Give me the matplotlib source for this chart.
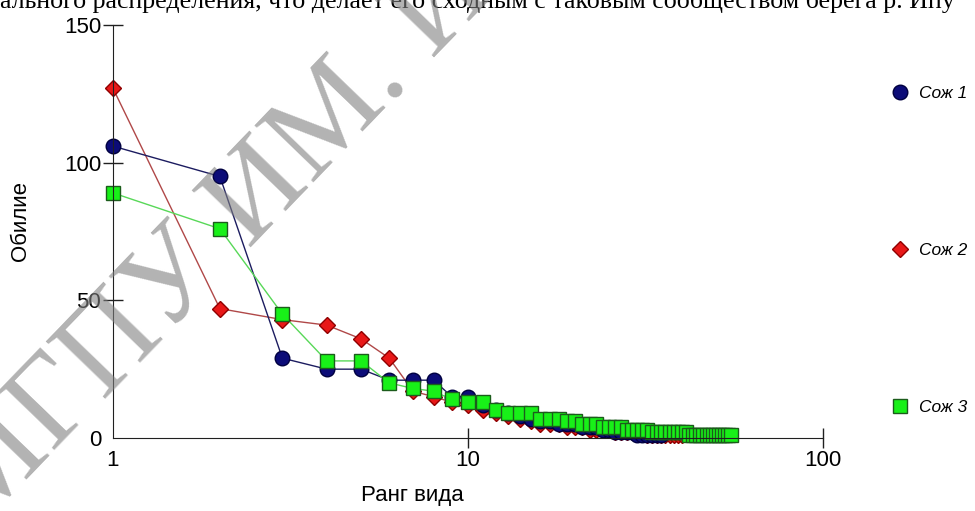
#!/usr/bin/env python3
'''Rank-abundance plot for three Sozh river samples'''
import matplotlib
matplotlib.use('Agg')
import matplotlib.pyplot as plt
from matplotlib.lines import Line2D

# abundance of each species, sorted by rank
soz1 = [106, 95, 29, 25, 25, 21, 21, 21, 15, 15, 12, 10, 9, 8, 7, 6, 6, 5,
        5, 5, 4, 4, 4, 3, 3, 2, 2, 2, 2, 1, 1, 1, 1, 1, 1]
soz2 = [127, 47, 43, 41, 36, 29, 17, 15, 13, 12, 10, 9, 8, 7, 6, 5, 5, 5,
        4, 4, 4, 3, 3, 3, 3, 2, 2, 2, 2, 2, 2, 1, 1, 1, 1, 1, 1, 1, 1, 1]
soz3 = [89, 76, 45, 28, 28, 20, 18, 17, 14, 13, 13, 10, 9, 9, 9, 7, 7, 7,
        6, 6, 5, 5, 5, 4, 4, 4, 4, 3, 3, 3, 3, 3, 2, 2, 2, 2, 2, 2, 2, 2,
        2, 1, 1, 1, 1, 1, 1, 1, 1, 1, 1, 1, 1, 1, 1]
names = ['Сож 1', 'Сож 2', 'Сож 3']

plt.rcParams['font.family'] = ['Liberation Sans', 'DejaVu Sans']

fig = plt.figure(figsize=(9.75, 5.11), dpi=100)
ax = fig.add_axes([113 / 975, 1 - 438 / 511, 710 / 975, 413 / 511])

styles = [
    dict(marker='o', ms=10.5, mfc='#0c0c78', mec='#000040', color='#1c1c60'),
    dict(marker='D', ms=8, mfc='#e81818', mec='#900000', color='#b04848'),
    dict(marker='s', ms=10.5, mfc='#18f018', mec='#1c5c1c', color='#58d858'),
]
# red first, then blue, green on top
for series, st in zip([soz2, soz1, soz3], [styles[1], styles[0], styles[2]]):
    ranks = list(range(1, len(series) + 1))
    ax.plot(ranks, series, lw=1, clip_on=False, **st)

ax.set_xscale('log')
ax.set_xlim(1, 100)
ax.set_ylim(0, 150)
ax.set_xticks([1, 10, 100])
ax.set_xticklabels(['1', '10', '100'])
ax.minorticks_off()
ax.set_yticks([0, 50, 100, 150])
ax.xaxis.get_major_ticks()[0].tick1line.set_visible(False)
ax.yaxis.get_major_ticks()[0].tick1line.set_visible(False)
for side in ['top', 'right']:
    ax.spines[side].set_visible(False)
for side in ['left', 'bottom']:
    ax.spines[side].set_color('#202020')
ax.tick_params(direction='inout', length=14, width=1, color='#202020',
               labelsize=16, pad=1.5)
ax.set_xlabel('Ранг вида', fontsize=16)
ax.xaxis.set_label_coords((412 - 113) / 710, -0.113)
ax.set_ylabel('Обилие', fontsize=16)
ax.yaxis.set_label_coords(-0.115, 0.525)

handles = [Line2D([], [], ls='none', **{k: v for k, v in st.items() if k != 'color'})
           for st in styles]
fig.legend(handles, names, loc='upper left', bbox_to_anchor=(0.898, 0.862),
           frameon=False, prop=dict(style='italic', size=12.5),
           labelspacing=8.15, handletextpad=0.6, handlelength=1)

fig.text(0.0, 1 - 8 / 511,
         'ального распределения, что делает его сходным с таковым '
         'сообществом берега р. Ипу',
         fontsize=18.7, family='Liberation Serif', va='baseline', ha='left')
fig.text(-0.025, 1 - 533 / 511, 'МГПУ ИМ. И.П. ШАМЯКИНА', fontsize=90,
         family='Liberation Serif', color='gray', alpha=0.6, rotation=46,
         rotation_mode='anchor', ha='left', va='baseline', zorder=10)

plt.savefig('out.png')
